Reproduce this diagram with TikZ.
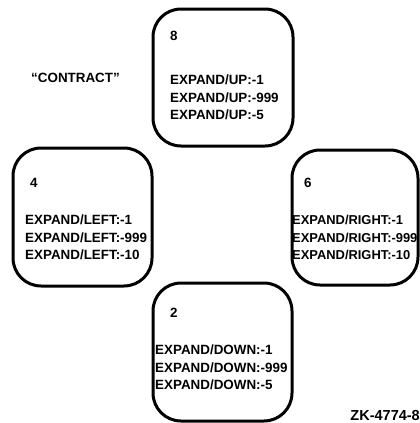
\documentclass[tikz,border=0pt]{standalone}
\usepackage{fontspec}
\setmainfont{Liberation Sans}
\begin{document}
\begin{tikzpicture}[x=1pt,y=-1pt,
  box/.style={draw=black, line width=3pt, rounded corners=28pt, inner sep=0pt, outer sep=0pt},
  lbl/.style={anchor=base west, inner sep=0pt, font=\fontsize{13.4}{15}\selectfont\bfseries},
  rlbl/.style={lbl, font=\fontsize{12.9}{15}\selectfont\bfseries},
  tag/.style={anchor=base east, inner sep=0pt, font=\fontsize{14.5}{16}\selectfont\bfseries}]
\useasboundingbox[fill=white] (0,0) rectangle (420,423);
% boxes
\node[box, minimum width=140pt, minimum height=137pt] (up) at (223,77.5) {};
\node[box, minimum width=139pt, minimum height=138pt] (left) at (82.5,217) {};
\node[box, minimum width=126pt, minimum height=135pt] (right) at (355,217.5) {};
\node[box, minimum width=139pt, minimum height=138pt] (down) at (222.5,352) {};
% up
\node[lbl] (u0) at (170,40.5) {8};
\node[lbl] (u1) at (170,84.7) {EXPAND/UP:-1};
\node[lbl] (u2) at (170,102.2) {EXPAND/UP:-999};
\node[lbl] (u3) at (170,119.7) {EXPAND/UP:-5};
% left
\node[lbl] (l0) at (30,187.5) {4};
\node[lbl] (l1) at (25,224.5) {EXPAND/LEFT:-1};
\node[lbl] (l2) at (25,242) {EXPAND/LEFT:-999};
\node[lbl] (l3) at (25,259.5) {EXPAND/LEFT:-10};
% right
\node[lbl] (r0) at (304,187.5) {6};
\node[rlbl] (r1) at (292,224.5) {EXPAND/RIGHT:-1};
\node[rlbl] (r2) at (292,242) {EXPAND/RIGHT:-999};
\node[rlbl] (r3) at (292,259.5) {EXPAND/RIGHT:-10};
% down
\node[lbl] (d0) at (170,317.5) {2};
\node[lbl] (d1) at (155,354.7) {EXPAND/DOWN:-1};
\node[lbl] (d2) at (155,372.2) {EXPAND/DOWN:-999};
\node[lbl] (d3) at (155,389.7) {EXPAND/DOWN:-5};
% others
\node[lbl] (contract) at (31,82.5) {“CONTRACT”};
\node[tag] (zk) at (420,420.5) {ZK-4774-8};
\end{tikzpicture}
\end{document}
